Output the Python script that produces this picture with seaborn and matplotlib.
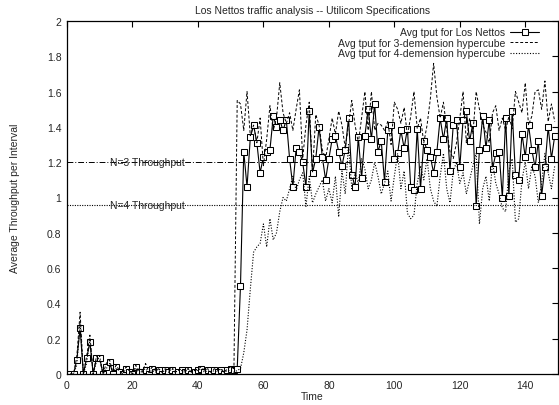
import matplotlib
matplotlib.use("Agg")
import matplotlib.pyplot as plt
import seaborn as sns
import numpy as np
import pandas as pd

# ---------------- data ----------------
los_low = [0, 0, 0.08, 0.26, 0, 0.09, 0.18, 0, 0.09, 0.09,
           0, 0.04, 0.07, 0, 0.04, 0.01, 0, 0.03, 0.01, 0,
           0.04, 0.01, 0.01, 0.02, 0.0, 0.03, 0.01, 0.02, 0.0, 0.02,
           0.01, 0.02, 0.0, 0.01, 0.02, 0.01, 0.02, 0.0, 0.01, 0.02,
           0.03, 0.01, 0.02, 0.0, 0.02, 0.01, 0.02, 0.0, 0.02, 0.03,
           0.02, 0.03, 0.5]
los_high = [1.26, 1.06, 1.34, 1.41, 1.31, 1.14, 1.23, 1.26, 1.27, 1.46,
            1.40, 1.44, 1.38, 1.44, 1.22, 1.06, 1.28, 1.26, 1.20, 1.06,
            1.49, 1.14, 1.22, 1.40, 1.23, 1.10, 1.22, 1.33, 1.35, 1.26,
            1.18, 1.27, 1.45, 1.13, 1.06, 1.34, 1.11, 1.35, 1.50, 1.33,
            1.53, 1.26, 1.32, 1.09, 1.38, 1.41, 1.22, 1.25, 1.38, 1.28,
            1.39, 1.06, 1.04, 1.39, 1.05, 1.32, 1.27, 1.23, 1.14, 1.26,
            1.45, 1.33, 1.45, 1.15, 1.41, 1.44, 1.17, 1.44, 1.49, 1.32,
            1.42, 0.95, 1.27, 1.46, 1.28, 1.44, 1.16, 1.25, 1.26, 1.00,
            1.45, 1.01, 1.49, 1.13, 1.10, 1.36, 1.23, 1.41, 1.27, 1.17,
            1.32, 1.01, 1.17, 1.40, 1.22, 1.35]

cube3_low = [0, 0, 0.1, 0.35, 0, 0.1, 0.22, 0, 0.1, 0.08,
             0, 0.06, 0.08, 0.01, 0.05, 0.02, 0, 0.04, 0.02, 0,
             0.05, 0.02, 0.01, 0.06, 0.01, 0.04, 0.02, 0.03, 0.01, 0.03,
             0.02, 0.04, 0.01, 0.02, 0.03, 0.02, 0.03, 0.01, 0.02, 0.03,
             0.04, 0.02, 0.03, 0.01, 0.03, 0.02, 0.03, 0.01, 0.03, 0.04,
             0.03]
cube3_high = [1.55, 1.53, 1.38, 1.60, 1.35, 1.41, 1.31, 1.45, 1.18, 1.33,
              1.52, 1.38, 1.45, 1.65, 1.48, 1.42, 1.48, 1.38, 1.50, 1.61,
              1.22, 1.41, 1.54, 1.14, 1.47, 1.41, 1.27, 1.22, 1.33, 1.45,
              1.36, 1.49, 1.41, 1.28, 1.41, 1.55, 1.41, 1.31, 1.45, 1.60,
              1.38, 1.60, 1.38, 1.42, 1.41, 1.38, 1.43, 1.30, 1.54, 1.50,
              1.42, 1.51, 1.35, 1.46, 1.60, 1.39, 1.45, 1.31, 1.41, 1.56,
              1.76, 1.57, 1.45, 1.54, 1.39, 1.26, 1.22, 1.31, 1.45, 1.60,
              1.31, 1.45, 1.36, 1.60, 1.50, 1.41, 1.37, 1.31, 1.48, 1.52,
              1.38, 1.45, 1.38, 1.46, 1.39, 1.60, 1.54, 1.48, 1.65, 1.41,
              1.46, 1.60, 1.61, 1.50, 1.66, 1.43, 1.53, 1.43]

cube4_low = [0, 0, 0.05, 0.3, 0, 0.06, 0.2, 0, 0.07, 0.1,
             0, 0.03, 0.06, 0.01, 0.03, 0.02, 0, 0.02, 0.02, 0,
             0.03, 0.01, 0.02, 0.03, 0.01, 0.02, 0.01, 0.03, 0.01, 0.02,
             0.01, 0.03, 0.01, 0.02, 0.02, 0.01, 0.03, 0.01, 0.02, 0.02,
             0.03, 0.01, 0.02, 0.01, 0.02, 0.01, 0.03, 0.01, 0.02, 0.02,
             0.01, 0.02]
cube4_high = [0.03, 0.12, 0.25, 0.48, 0.69, 0.72, 0.74, 0.85, 0.72, 0.88,
              0.76, 0.80, 0.92, 1.00, 0.98, 1.05, 1.12, 1.04, 1.10, 1.14,
              0.95, 1.12, 0.97, 1.02, 1.06, 1.10, 0.98, 1.05, 0.97, 1.12,
              0.89, 1.15, 1.02, 1.30, 1.05, 1.14, 1.08, 1.22, 1.16, 1.05,
              1.10, 1.20, 1.12, 1.02, 1.08, 1.15, 0.98, 1.12, 1.25, 1.05,
              1.15, 0.91, 0.88, 0.90, 1.08, 1.18, 1.10, 1.22, 1.05, 0.98,
              0.95, 1.12, 1.25, 1.05, 0.97, 1.15, 1.20, 1.08, 1.14, 1.02,
              1.10, 1.18, 1.25, 0.85, 1.05, 1.12, 0.98, 1.20, 1.08, 1.02,
              0.94, 0.92, 1.15, 1.22, 0.86, 0.88, 1.10, 1.20, 1.05, 1.18,
              1.12, 0.97, 1.08, 1.25, 1.14, 1.05, 1.18]

los_nettos = los_low + los_high
cube3 = cube3_low + cube3_high
cube4 = cube4_low + cube4_high
n = min(len(los_nettos), len(cube3), len(cube4))
time = list(range(1, n + 1))

n3_throughput = 1.2
n4_throughput = 0.96

labels = ["Avg tput for Los Nettos",
          "Avg tput for 3-demension hypercube",
          "Avg tput for 4-demension hypercube"]
x_ticks = [0, 20, 40, 60, 80, 100, 120, 140]
y_ticks = [0, 0.2, 0.4, 0.6, 0.8, 1, 1.2, 1.4, 1.6, 1.8, 2]

# ---------------- plot ----------------
sns.set_style("white")
plt.rcParams['font.family'] = ['Liberation Sans', 'DejaVu Sans']
plt.rcParams['font.size'] = 7.5

fig = plt.figure(figsize=(5.59, 4.06), dpi=100)
ax = fig.add_axes([67 / 559, 1 - 375 / 406, (558 - 67) / 559, (375 - 22) / 406])

df = pd.DataFrame({"Time": time,
                   "los": los_nettos[:n],
                   "c3": cube3[:n],
                   "c4": cube4[:n]})

sns.lineplot(data=df, x="Time", y="los", ax=ax, color="black", lw=0.8,
             marker="s", markersize=4.3, markerfacecolor="white",
             markeredgecolor="black", markeredgewidth=0.75, label=labels[0])
sns.lineplot(data=df, x="Time", y="c3", ax=ax, color="black", lw=0.7,
             linestyle=(0, (3, 2)), label=labels[1])
sns.lineplot(data=df, x="Time", y="c4", ax=ax, color="black", lw=0.8,
             linestyle=(0, (1, 1.5)), label=labels[2])

ax.axhline(n3_throughput, color="black", lw=0.7, linestyle=(0, (6, 2, 1, 2)))
ax.axhline(n4_throughput, color="black", lw=0.8, linestyle=(0, (1, 1.2)))
ax.text(13, n3_throughput, "N=3 Throughput", va="center", ha="left", fontsize=7.5)
ax.text(13, n4_throughput, "N=4 Throughput", va="center", ha="left", fontsize=7.5)

ax.set_xlim(0, 150)
ax.set_ylim(0, 2)
ax.set_xticks(x_ticks)
ax.set_yticks(y_ticks)
ax.set_xticklabels([f"{v:g}" for v in x_ticks])
ax.set_yticklabels([f"{v:g}" for v in y_ticks])
ax.tick_params(direction="in", length=4, width=0.8, top=True, right=True,
               labelsize=7.5, pad=4, color="black")
for s in ax.spines.values():
    s.set_color("black")
    s.set_linewidth(0.9)

ax.set_xlabel("Time", fontsize=7.5, labelpad=1)
ax.set_ylabel("Average Throughput per Interval", fontsize=7.5, labelpad=19)
ax.set_title("Los Nettos traffic analysis -- Utilicom Specifications",
             fontsize=7.5, pad=6)

leg = ax.legend(loc="upper right", frameon=False, markerfirst=False,
                handlelength=2.8, handletextpad=0.5, labelspacing=0.05,
                borderaxespad=0.2, fontsize=7.5, numpoints=1,
                bbox_to_anchor=(0.975, 1.0))
for t in leg.get_texts():
    t.set_ha("right")
leg._legend_box.align = "right"

fig.savefig("out.png", dpi=100)
